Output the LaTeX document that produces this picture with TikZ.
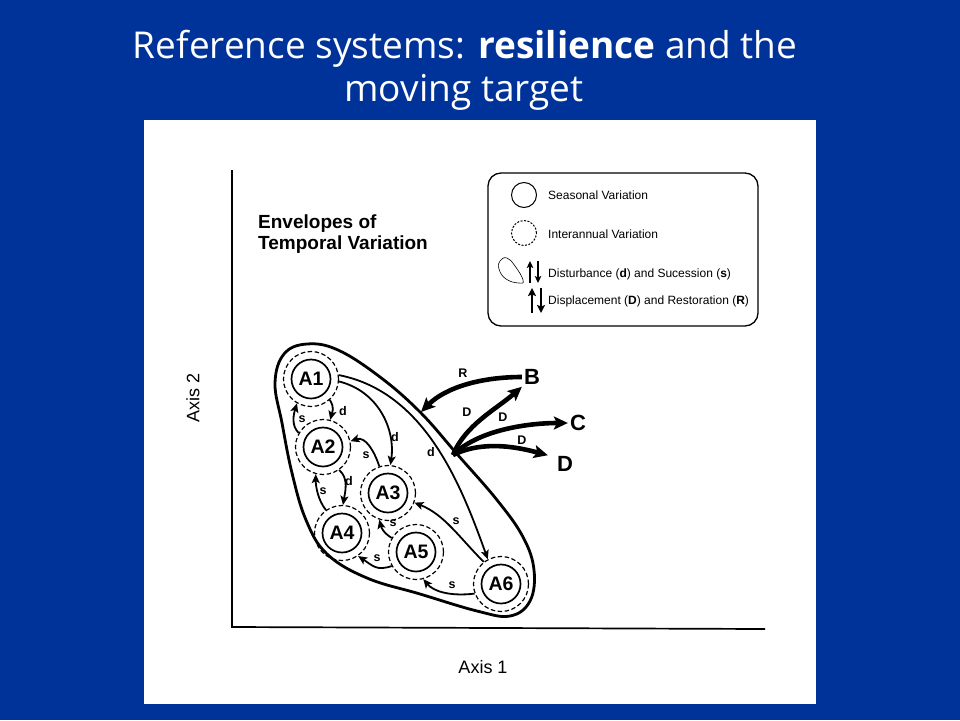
\documentclass[tikz,border=0pt]{standalone}
\usepackage{fontspec}
\setmainfont{Liberation Sans}
\newfontfamily\titlefont{Open Sans}
\usetikzlibrary{arrows.meta}
\definecolor{bgblue}{HTML}{003399}
\tikzset{
  outerc/.style={circle, draw, line width=1.2pt, dash pattern=on 4.5pt off 2.5pt, minimum size=55pt, inner sep=0pt},
  innerc/.style={circle, draw, line width=1.7pt, minimum size=39pt, inner sep=0pt, font=\bfseries\fontsize{19.5}{21}\selectfont},
  thinarr/.style={line width=1.8pt, -{Stealth[length=9pt,width=8pt,inset=2pt]}},
  thickarr/.style={line width=4.6pt, -{Stealth[length=14pt,width=13pt,inset=3pt]}},
  lbl/.style={font=\bfseries\fontsize{12.5}{13}\selectfont, inner sep=1pt},
  bigl/.style={font=\bfseries\fontsize{22}{24}\selectfont, inner sep=2pt},
  legtext/.style={font=\fontsize{12}{13}\selectfont, anchor=base west, inner sep=0pt},
  ttl/.style={text=white, font=\titlefont\fontsize{37}{40}\selectfont, anchor=base, inner sep=0pt},
}
\begin{document}
\begin{tikzpicture}[x=1pt,y=-1pt]
\fill[bgblue] (0,0) rectangle (960,720);
\useasboundingbox (0,0) rectangle (960,720);
\fill[white] (144,120) rectangle (816,704);

% title
\node[ttl] (t1) at (465,58) {Reference systems: \textbf{resilience} and the};
\node[ttl] (t2) at (464,101) {moving target};

% axes
\coordinate (ytop) at (232,170);
\coordinate (orig) at (232,627);
\coordinate (xend) at (765,629);
\draw[line width=1.7pt] (ytop) -- (orig) -- (xend);
\node[font=\fontsize{18}{20}\selectfont, rotate=90] (ax2) at (193,398) {Axis 2};
\node[font=\fontsize{18}{20}\selectfont] (ax1) at (483,667) {Axis 1};

% heading
\node[font=\bfseries\fontsize{19}{21}\selectfont, anchor=base west, inner sep=0pt] (env1) at (258,228) {Envelopes of};
\node[font=\bfseries\fontsize{19}{21}\selectfont, anchor=base west, inner sep=0pt] (env2) at (258,249) {Temporal Variation};

% legend
\draw[line width=1.3pt, rounded corners=13pt] (488,173) rectangle (758,326);
\node[circle, draw, line width=1pt, minimum size=25pt, inner sep=0pt] (lgs) at (524,195) {};
\node[circle, draw, line width=1pt, dash pattern=on 2pt off 1.5pt, minimum size=25pt, inner sep=0pt] (lgi) at (524,233) {};
\draw[line width=0.6pt] plot[smooth cycle, tension=0.8] coordinates {(500,261) (507,258) (515,266) (523,280) (519,283) (506,279) (499,269)};
\draw[line width=1.4pt, -{Stealth[length=7pt,width=6.5pt,inset=1.5pt]}] (530,283) -- (530,261);
\draw[line width=1.4pt, -{Stealth[length=7pt,width=6.5pt,inset=1.5pt]}] (538,261) -- (538,283);
\draw[line width=2.8pt, -{Stealth[length=8pt,width=8pt,inset=1.5pt]}] (532,313) -- (532,288);
\draw[line width=2.8pt, -{Stealth[length=8pt,width=8pt,inset=1.5pt]}] (541,288) -- (541,313);
\node[legtext] (lt1) at (548,199) {Seasonal Variation};
\node[legtext] (lt2) at (548,238) {Interannual Variation};
\node[legtext] (lt3) at (548,277) {Disturbance (\textbf{d}) and Sucession (\textbf{s})};
\node[legtext] (lt4) at (548,304) {Displacement (\textbf{D}) and Restoration (\textbf{R})};

% envelope
\draw[line width=2.8pt] plot[smooth cycle, tension=0.65] coordinates {
 (275,383) (284,354) (307,344) (338,350) (380,377) (420,412) (457,454)
 (497,500) (523,537) (534,570) (530,601) (510,616) (477,611) (420,594)
 (367,578) (327,554) (306,520) (292,473) (282,423)};
\coordinate (O) at (453,455);
\coordinate (Rend) at (421,412);

% states
\foreach \n/\p in {A1/{(311,379)},A2/{(323,447)},A3/{(388,493)},A4/{(342,533)},A5/{(416,552)},A6/{(501,584)}}{
  \node[outerc] (\n) at \p {};
  \node[innerc] (\n i) at \p {\n};
}

% internal arrows
\draw[thinarr] (A1.-48) .. controls +(5,8) and +(2,-8) .. (A2.75);
\draw[thinarr] (A2.150) .. controls +(-8,-8) and +(-3,10) .. (A1.-120);
\draw[thinarr] (A1.-5) .. controls +(40,10) and +(5,-35) .. (A3.85);
\draw[thinarr] (A1.8) .. controls +(87,17) and +(-26,-72) .. (A6.118);
\draw[thinarr] (A3.108) .. controls +(-5,-15) and +(15,-5) .. (A2.12);
\draw[thinarr] (A2.-55) .. controls +(10,8) and +(2,-12) .. (A4.88);
\draw[thinarr] (A4.125) .. controls +(-8,-10) and +(0,12) .. (A2.-105);
\draw[thinarr] (A5.150) .. controls +(-8,-5) and +(2,8) .. (A3.-108);
\draw[thinarr] (A6.128) .. controls +(-25,-25) and +(30,12) .. (A3.-20);
\draw[thinarr] (A5.-150) .. controls +(-15,5) and +(15,10) .. (A4.-55);
\draw[thinarr] (A6.-160) .. controls +(-25,3) and +(10,12) .. (A5.-75);

\node[lbl] (l1) at (343,411) {d};
\node[lbl] (l2) at (302,419) {s};
\node[lbl] (l3) at (395,437) {d};
\node[lbl] (l4) at (431,452) {d};
\node[lbl] (l5) at (366,455) {s};
\node[lbl] (l6) at (349,481) {d};
\node[lbl] (l7) at (323,491) {s};
\node[lbl] (l8) at (393,523) {s};
\node[lbl] (l9) at (456,521) {s};
\node[lbl] (l10) at (377,558) {s};
\node[lbl] (l11) at (452,585) {s};

% external
\node[bigl] (B) at (532,377) {B};
\node[bigl] (C) at (578,423) {C};
\node[bigl] (Dn) at (565,464) {D};
\draw[thickarr] (B.west) .. controls +(-40,0) and +(25,-25) .. (Rend);
\draw[thickarr] (O) .. controls +(12,-30) and +(-25,22) .. (B.south west);
\draw[thickarr] (O) .. controls +(25,-25) and +(-40,0) .. (C.west);
\draw[thickarr] (O) .. controls +(30,-15) and +(-30,-8) .. ([shift={(-7,1)}]Dn.north west);
\node[lbl] (lR) at (463,373) {R};
\node[lbl] (lD1) at (467,412) {D};
\node[lbl] (lD2) at (503,417) {D};
\node[lbl] (lD3) at (522,440) {D};
\end{tikzpicture}
\end{document}
